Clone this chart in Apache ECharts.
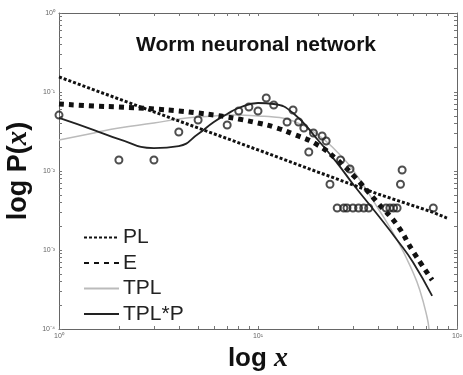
<!DOCTYPE html>
<html>
<head>
<meta charset="utf-8">
<script src="https://cdn.jsdelivr.net/npm/echarts@6/dist/echarts.min.js"></script>
<style>html,body{margin:0;padding:0;background:#fff}#c{width:463px;height:375px}</style>
</head>
<body>
<div id="c"></div>
<script>
// ---- data ----
const observedX = [1, 2, 3, 4, 5, 7, 8, 9, 10, 11, 12, 14, 15, 16, 17, 18, 19, 21, 22, 23, 26, 29, 52, 53, 76,
  25, 27, 28, 30, 32, 34, 36, 44, 46, 48, 50];
const observedY = [0.051, 0.0138, 0.0138, 0.0312, 0.0442, 0.0382, 0.0574, 0.0646, 0.0574, 0.0839, 0.0685, 0.0417, 0.0592, 0.0417, 0.035, 0.0174, 0.0303, 0.0277, 0.024, 0.0068, 0.0138, 0.0106, 0.0068, 0.0103, 0.0034,
  0.0034, 0.0034, 0.0034, 0.0034, 0.0034, 0.0034, 0.0034, 0.0034, 0.0034, 0.0034, 0.0034];

const plX = [1, 2, 4, 10, 20, 40, 75, 89];
const plY = [0.155, 0.0815, 0.043, 0.0185, 0.0097, 0.00512, 0.00303, 0.00254];

const eX = [1, 1.5, 2, 3, 4, 5, 6, 7, 8, 10, 12, 15, 20, 25, 30, 40, 50, 60, 75];
const eY = [0.0705, 0.0665, 0.0646, 0.061, 0.0575, 0.0542, 0.0512, 0.0483, 0.0455, 0.0405, 0.0361, 0.0294, 0.0213, 0.0138, 0.0089, 0.00394, 0.00207, 0.00097, 0.000417];

const tplX = [1, 1.5, 2, 3, 4, 5, 6, 7, 8, 10, 12, 15, 20, 25, 30, 40, 50, 60, 65, 70.7, 72.3];
const tplY = [0.0247, 0.0303, 0.035, 0.0405, 0.0455, 0.0483, 0.0497, 0.0512, 0.0512, 0.0497, 0.0483, 0.043, 0.0286, 0.0174, 0.0103, 0.0034, 0.00134, 0.000527, 0.000312, 0.000142, 0.0001];

const tplpX = [1, 1.5, 2, 3, 4, 5, 6, 7, 8, 10, 12, 15, 20, 25, 30, 40, 50, 60, 75];
const tplpY = [0.0469, 0.033, 0.0254, 0.0195, 0.0207, 0.0294, 0.0417, 0.0527, 0.0627, 0.0726, 0.0705, 0.0542, 0.0247, 0.0126, 0.00684, 0.00277, 0.00134, 0.000705, 0.000262];

const seriesNames = ['PL', 'E', 'TPL', 'TPL*P'];
const xTickLabels = ['10\u2070', '10\u00b9', '10\u00b2'];
const yTickLabels = ['10\u207b\u2074', '10\u207b\u00b3', '10\u207b\u00b2', '10\u207b\u00b9', '10\u2070'];
const xTicks = [1, 2, 3, 4, 5, 6, 7, 8, 9, 10, 20, 30, 40, 50, 60, 70, 80, 90, 100];
const yTicks = [0.0001, 0.0002, 0.0003, 0.0004, 0.0005, 0.0006, 0.0007, 0.0008, 0.0009,
  0.001, 0.002, 0.003, 0.004, 0.005, 0.006, 0.007, 0.008, 0.009,
  0.01, 0.02, 0.03, 0.04, 0.05, 0.06, 0.07, 0.08, 0.09,
  0.1, 0.2, 0.3, 0.4, 0.5, 0.6, 0.7, 0.8, 0.9, 1];

const zip = (a, b) => a.map((v, i) => [v, b[i]]);

const chart = echarts.init(document.getElementById('c'), null, {renderer: 'canvas'});
const axisCommon = {
  type: 'log', logBase: 10,
  axisLine: {show: true, lineStyle: {color: '#666', width: 1}},
  axisTick: {show: true, inside: true, length: 3, lineStyle: {color: '#777'}},
  splitLine: {show: false}
};
const lbl = {fontSize: 7, color: '#666', fontFamily: 'Liberation Sans'};
chart.setOption({
  animation: false,
  backgroundColor: '#fff',
  grid: {left: 59, top: 13, width: 398, height: 316, show: false, containLabel: false, outerBoundsMode: 'none'},
  graphic: [{
    type: 'text', x: 256, y: 45,
    style: {text: 'Worm neuronal network', font: 'bold 21px "Liberation Sans", Arial', fill: '#111', textAlign: 'center', textVerticalAlign: 'middle'}
  }],
  legend: {
    orient: 'vertical', left: 83, top: 227, itemWidth: 35, itemHeight: 14, itemGap: 4.5, padding: 0,
    data: seriesNames,
    itemStyle: {opacity: 0},
    textStyle: {fontSize: 21, color: '#222', fontFamily: 'Liberation Sans', padding: [0, 0, 0, -1]}
  },
  xAxis: [
    Object.assign({}, axisCommon, {
      position: 'bottom', min: 1, max: 100,
      axisTick: Object.assign({}, axisCommon.axisTick, {customValues: xTicks}),
      axisLabel: Object.assign({}, lbl, {margin: 4, customValues: [1, 10, 100],
        formatter: v => xTickLabels[Math.round(Math.log10(v))]}),
      name: '{a|log }{b|x}', nameLocation: 'middle', nameGap: 13,
      nameTextStyle: {rich: {
        a: {fontSize: 26, fontWeight: 'bold', fontFamily: 'Liberation Sans', color: '#111'},
        b: {fontSize: 28, fontWeight: 'bold', fontStyle: 'italic', fontFamily: 'Liberation Serif', color: '#111'}
      }}
    }),
    Object.assign({}, axisCommon, {
      position: 'top', min: 1, max: 100,
      axisTick: Object.assign({}, axisCommon.axisTick, {customValues: xTicks}),
      axisLabel: {show: false}
    })
  ],
  yAxis: [
    Object.assign({}, axisCommon, {
      position: 'left', min: 0.0001, max: 1,
      axisTick: Object.assign({}, axisCommon.axisTick, {customValues: yTicks}),
      axisLabel: Object.assign({}, lbl, {margin: 4, customValues: [0.0001, 0.001, 0.01, 0.1, 1],
        formatter: v => yTickLabels[Math.round(Math.log10(v)) + 4]}),
      name: '{a|log P(}{b|x}{a|)}', nameLocation: 'middle', nameGap: 26, nameRotate: 90,
      nameMoveOverlap: false,
      nameTextStyle: {rich: {
        a: {fontSize: 27, fontWeight: 'bold', fontFamily: 'Liberation Sans', color: '#111'},
        b: {fontSize: 29, fontWeight: 'bold', fontStyle: 'italic', fontFamily: 'Liberation Serif', color: '#111'}
      }}
    }),
    Object.assign({}, axisCommon, {
      position: 'right', min: 0.0001, max: 1,
      axisTick: Object.assign({}, axisCommon.axisTick, {customValues: yTicks}),
      axisLabel: {show: false}
    })
  ],
  series: [
    {name: 'PL', type: 'line', data: zip(plX, plY), symbol: 'none', smooth: false,
      lineStyle: {color: '#111', width: 3, type: [3, 2]}, itemStyle: {color: '#111'}, z: 4},
    {name: 'E', type: 'line', data: zip(eX, eY), symbol: 'none', smooth: true,
      lineStyle: {color: '#111', width: 5, type: [5, 5]}, itemStyle: {color: '#111'}, z: 5},
    {name: 'TPL', type: 'line', data: zip(tplX, tplY), symbol: 'none', smooth: true,
      lineStyle: {color: '#bbb', width: 1.5}, itemStyle: {color: '#bbb'}, z: 2},
    {name: 'TPL*P', type: 'line', data: zip(tplpX, tplpY), symbol: 'none', smooth: true,
      lineStyle: {color: '#222', width: 1.8}, itemStyle: {color: '#222'}, z: 3},
    {name: 'data', type: 'scatter', data: zip(observedX, observedY), symbol: 'circle', symbolSize: 7,
      itemStyle: {color: 'rgba(255,255,255,0)', borderColor: '#222', borderWidth: 2}, z: 6}
  ]
});
</script>
</body>
</html>
